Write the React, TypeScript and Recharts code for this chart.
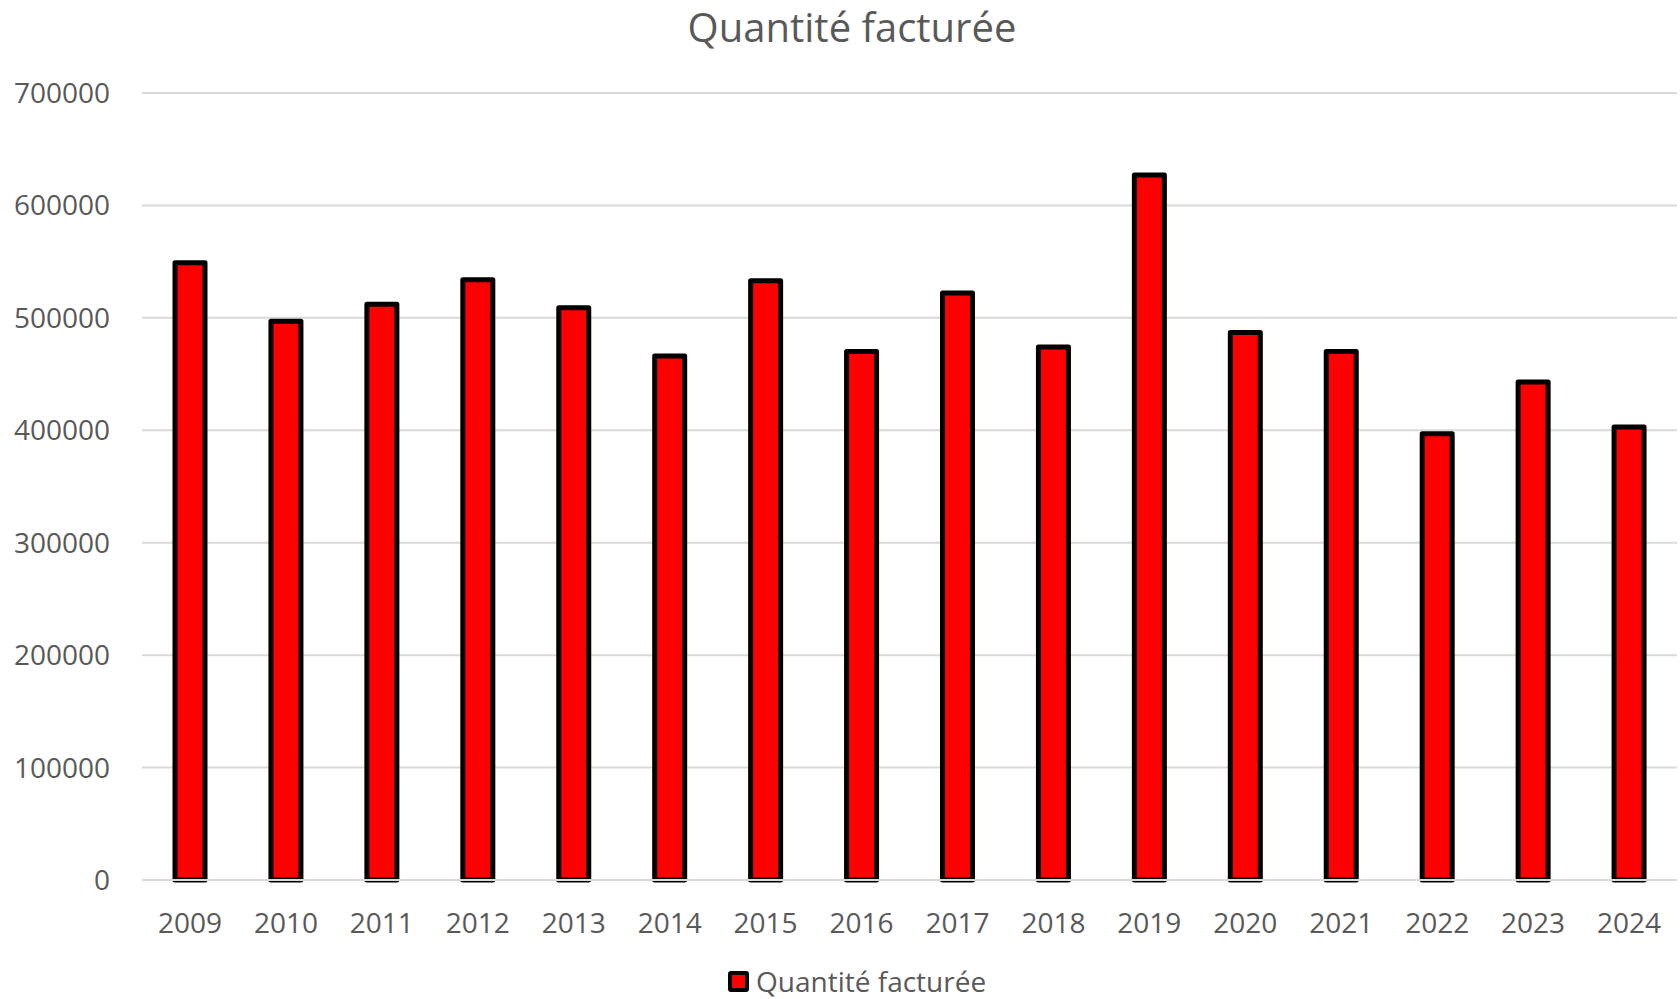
import React from 'react';
import { BarChart, Bar, XAxis, YAxis, CartesianGrid, Legend } from 'recharts';

const years = ['2009', '2010', '2011', '2012', '2013', '2014', '2015', '2016', '2017', '2018', '2019', '2020', '2021', '2022', '2023', '2024'];
const quantities = [549000, 497000, 512000, 534000, 509000, 466000, 533000, 470000, 522000, 474000, 627000, 487000, 470000, 397000, 443000, 403000];
const yTicks = [0, 100000, 200000, 300000, 400000, 500000, 600000, 700000];
const seriesName = 'Quantité facturée';
const titleText = 'Quantité facturée';

const data = years.map((y, i) => ({ year: y, value: quantities[i] }));

const FONT = '"Open Sans", "Noto Sans", sans-serif';
const TEXT = '#595959';

const LegendContent = (props: any) => {
  const payload = props.payload || [];
  return (
    <div style={{ display: 'flex', alignItems: 'center', fontFamily: FONT, fontSize: 28, color: TEXT, lineHeight: '30px' }}>
      {payload.map((p: any, i: number) => (
        <div key={i} style={{ display: 'flex', alignItems: 'center' }}>
          <div style={{ width: 13, height: 13, background: p.color, border: '4px solid #000', borderRadius: 3, marginRight: 7 }} />
          <span>{p.value}</span>
        </div>
      ))}
    </div>
  );
};

export default function App() {
  return (
    <div style={{ position: 'absolute', left: 0, top: 0, width: 1680, height: 999, background: '#fff' }}>
      <BarChart width={1680} height={999} data={data} margin={{ top: 93, right: 3, left: 0, bottom: 59 }}>
        <CartesianGrid vertical={false} stroke="#d9d9d9" strokeWidth={2} />
        <XAxis
          dataKey="year"
          height={60}
          axisLine={{ stroke: '#d9d9d9', strokeWidth: 2 }}
          tickLine={false}
          tickMargin={27}
          tick={{ fill: TEXT, fontSize: 28, fontFamily: FONT }}
          interval={0}
        />
        <YAxis
          width={142}
          domain={[0, 700000]}
          ticks={yTicks}
          axisLine={false}
          tickLine={false}
          tickMargin={26}
          tick={{ fill: TEXT, fontSize: 28, fontFamily: FONT }}
        />
        <Legend
          verticalAlign="middle"
          align="center"
          layout="horizontal"
          wrapperStyle={{ top: 966, left: 728, width: 400, height: 34 }}
          content={LegendContent}
        />
        <Bar
          dataKey="value"
          name={seriesName}
          fill="#ff0000"
          stroke="#000000"
          strokeWidth={5}
          strokeLinejoin="round"
          barSize={30}
          isAnimationActive={false}
        />
      </BarChart>
      <svg width={1680} height={999} style={{ position: 'absolute', left: 0, top: 0, pointerEvents: 'none' }}>
        <text x={852} y={42} textAnchor="middle" fontFamily={FONT} fontSize={40} fill={TEXT}>{titleText}</text>
      </svg>
    </div>
  );
}
